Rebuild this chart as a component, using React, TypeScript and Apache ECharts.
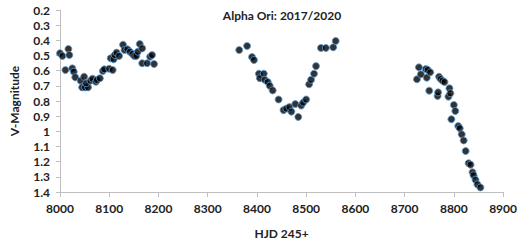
import React, { useEffect, useRef } from "react";
import * as echarts from "echarts";

const title = "Alpha Ori: 2017/2020";
const xAxisName = "HJD 245+";
const yAxisName = "V-Magnitude";

const hjd: number[] = [
  8000, 8005, 8017, 8019, 8011, 8025, 8028, 8031, 8042, 8049, 8045, 8051, 8057, 8053, 8062, 8066,
  8073, 8075, 8081, 8087, 8090, 8100, 8107, 8103, 8109, 8111, 8115, 8120, 8128, 8131, 8137, 8142,
  8147, 8151, 8155, 8158, 8162, 8167, 8167, 8177, 8183, 8187, 8191,
  8364, 8380, 8390, 8394, 8404, 8406, 8414, 8416, 8422, 8426, 8432, 8444, 8454, 8460, 8466, 8470,
  8478, 8484, 8490, 8494, 8500, 8506, 8510, 8516, 8520, 8530, 8540, 8555, 8560,
  8725, 8729, 8733, 8743, 8745, 8747, 8750, 8752, 8767, 8768, 8770, 8773, 8777, 8781, 8789, 8791,
  8793, 8795, 8800, 8803, 8809, 8812, 8816, 8820, 8824, 8830, 8834, 8838, 8840, 8844, 8848, 8854,
];

const vmag: number[] = [
  0.485, 0.503, 0.457, 0.497, 0.596, 0.585, 0.607, 0.644, 0.666, 0.64, 0.71, 0.71, 0.71, 0.683, 0.666, 0.653,
  0.673, 0.661, 0.65, 0.602, 0.591, 0.587, 0.596, 0.518, 0.525, 0.497, 0.481, 0.503, 0.429, 0.464, 0.459, 0.475,
  0.49, 0.503, 0.503, 0.475, 0.424, 0.453, 0.551, 0.551, 0.508, 0.497, 0.556,
  0.464, 0.437, 0.51, 0.53, 0.62, 0.65, 0.62, 0.66, 0.675, 0.7, 0.73, 0.79, 0.86, 0.85, 0.84, 0.87,
  0.82, 0.905, 0.83, 0.81, 0.79, 0.69, 0.66, 0.62, 0.57, 0.45, 0.45, 0.446, 0.404,
  0.657, 0.578, 0.624, 0.589, 0.646, 0.595, 0.732, 0.611, 0.767, 0.743, 0.64, 0.655, 0.666, 0.675, 0.771, 0.716,
  0.749, 0.92, 0.826, 0.866, 0.965, 0.98, 1.02, 1.06, 1.13, 1.21, 1.22, 1.27, 1.29, 1.32, 1.35, 1.37,
];

const FONT = "Lato, 'Open Sans', sans-serif";

export default function App() {
  const ref = useRef<HTMLDivElement>(null);
  useEffect(() => {
    document.body.style.margin = "0";
    if (!ref.current) return;
    const chart = echarts.init(ref.current, undefined, { renderer: "svg" });
    const data = hjd.map((d, i) => [d, vmag[i]]);
    chart.setOption({
      animation: false,
      backgroundColor: "#fff",
      title: {
        text: title,
        left: 277,
        textAlign: "center",
        top: 4,
        textStyle: { fontFamily: FONT, fontSize: 12, fontWeight: "bold", color: "#222" },
      },
      grid: { left: 55, right: 15, top: 10, bottom: 52, containLabel: false },
      xAxis: {
        type: "value",
        min: 8000,
        max: 8900,
        interval: 100,
        name: xAxisName,
        nameLocation: "middle",
        nameGap: 35,
        nameTextStyle: { fontFamily: FONT, fontSize: 12, fontWeight: "bold", color: "#222" },
        axisLine: { show: true, onZero: false, lineStyle: { color: "#bfbfbf" } },
        axisTick: { show: true, length: 5, lineStyle: { color: "#bfbfbf" } },
        axisLabel: {
          fontFamily: FONT,
          fontSize: 12,
          fontWeight: "bold",
          color: "#222",
          margin: 10,
          formatter: (v: number) => String(Math.round(v)),
        },
        splitLine: { show: false },
      },
      yAxis: {
        type: "value",
        inverse: true,
        min: 0.2,
        max: 1.4,
        interval: 0.1,
        name: yAxisName,
        nameLocation: "middle",
        nameGap: 40,
        nameRotate: 90,
        nameTextStyle: { fontFamily: FONT, fontSize: 12, fontWeight: "bold", color: "#222" },
        axisLine: { show: true, lineStyle: { color: "#bfbfbf" } },
        axisTick: { show: true, length: 4, lineStyle: { color: "#bfbfbf" } },
        axisLabel: {
          fontFamily: FONT,
          fontSize: 12,
          fontWeight: "bold",
          color: "#222",
          margin: 10,
          formatter: (v: number) => String(Math.round(v * 10) / 10),
        },
        splitLine: { show: false },
      },
      series: [
        {
          type: "scatter",
          data,
          symbol: "circle",
          symbolSize: 7,
          itemStyle: { color: "#000", borderColor: "#5b9bd5", borderWidth: 1 },
        },
      ],
    });
    return () => chart.dispose();
  }, []);
  return <div ref={ref} style={{ width: 520, height: 244 }} />;
}
